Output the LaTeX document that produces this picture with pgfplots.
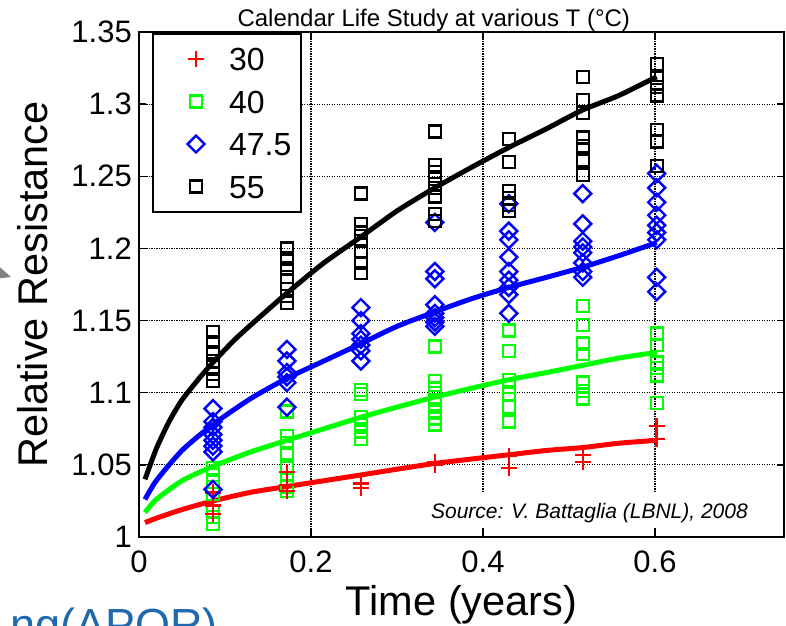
\documentclass[border=0pt]{standalone}
\usepackage{pgfplots}
\pgfplotsset{compat=1.18}
\usepackage{fontspec}
\setmainfont{Liberation Sans}

\definecolor{mred}{RGB}{255,0,0}
\definecolor{mgreen}{RGB}{0,255,0}
\definecolor{mblue}{RGB}{0,0,255}
\definecolor{slideblue}{RGB}{31,105,175}
\definecolor{arrowgray}{RGB}{128,128,128}

\newcommand{\fs}[1]{\fontsize{#1}{#1}\selectfont}

\pgfplotsset{
  redpts/.style={only marks, mark=+, color=mred, mark size=8pt, line width=2.5pt},
  greenpts/.style={only marks, mark=square, color=mgreen, mark size=6pt, line width=2.4pt},
  bluepts/.style={only marks, mark=square, color=mblue, mark size=6pt, line width=2.4pt, mark options={rotate=45}},
  blackpts/.style={only marks, mark=square, color=black, mark size=6pt, line width=2.4pt},
  fitline/.style={no marks, line width=5pt, line join=round, smooth, tension=0.4},
}

\begin{document}
\begin{tikzpicture}
\path[use as bounding box] (-139pt,-88pt) rectangle (647pt,537pt);
\clip (-139pt,-88pt) rectangle (647pt,537pt);
\begin{axis}[
  at={(0pt,0pt)}, anchor=south west,
  scale only axis, width=645pt, height=505pt,
  xmin=0, xmax=0.75, ymin=1, ymax=1.35,
  xtick={0,0.2,0.4,0.6}, xticklabels={0,0.2,0.4,0.6},
  ytick={1,1.05,1.1,1.15,1.2,1.25,1.3,1.35},
  yticklabels={1,1.05,1.1,1.15,1.2,1.25,1.3,1.35},
  /pgf/number format/assume math mode=true,
  tick label style={font=\fs{31}},
  xticklabel style={anchor=base, yshift=-35pt, inner sep=0pt},
  yticklabel style={anchor=east, xshift=-7pt, inner sep=0pt},
  tick align=inside, major tick length=7pt,
  tick style={black, line width=1.5pt},
  axis line style={line width=2pt},
  grid=major,
  major grid style={black, line width=1.2pt, dash pattern=on 1.2pt off 1.3pt},
  title={Calendar Life Study at various T (°C)},
  every axis title/.style={at={(axis description cs:0.457,1)}, anchor=base, yshift=5pt, font=\fs{24}},
  xlabel={Time (years)},
  every axis x label/.style={at={(axis description cs:0.5,0)}, yshift=-78pt, anchor=base, font=\fs{41.5}},
  ylabel={Relative Resistance},
  every axis y label/.style={at={(axis description cs:0,0.5)}, xshift=-91pt, rotate=90, anchor=base, font=\fs{41.5}},
  legend style={at={(axis description cs:0.0202,0.998)}, anchor=north west,
    draw=black, line width=2pt, fill=white, inner xsep=10pt, inner ysep=13.5pt,
    row sep=19.5pt, font=\fs{32},
    nodes={inner sep=0pt, text height=23pt, text depth=0pt},
    /tikz/every even column/.style={}, /tikz/every odd column/.style={}},
  legend cell align=left,
  legend image code/.code={%
    \path[draw=none, fill=none] (-33pt,-11.5pt) rectangle (33pt,11.5pt);
    \draw[#1] plot coordinates {(0pt,0pt)};},
]

% 40 degC measurements
\addplot[greenpts, forget plot] coordinates {
 (0.086,1.048) (0.086,1.043) (0.086,1.038) (0.086,1.030) (0.086,1.018) (0.086,1.014) (0.086,1.009)
 (0.172,1.087) (0.172,1.070) (0.172,1.065) (0.172,1.058) (0.172,1.048) (0.172,1.040) (0.172,1.035) (0.172,1.032)
 (0.258,1.102) (0.258,1.099) (0.258,1.083) (0.258,1.078) (0.258,1.073) (0.258,1.068)
 (0.344,1.132) (0.344,1.108) (0.344,1.103) (0.344,1.097) (0.344,1.092) (0.344,1.087) (0.344,1.082) (0.344,1.078)
 (0.430,1.143) (0.430,1.129) (0.430,1.109) (0.430,1.104) (0.430,1.099) (0.430,1.090) (0.430,1.080)
 (0.516,1.160) (0.516,1.147) (0.516,1.134) (0.516,1.127) (0.516,1.107) (0.516,1.101) (0.516,1.096)
 (0.602,1.141) (0.602,1.133) (0.602,1.121) (0.602,1.117) (0.602,1.112) (0.602,1.093)
};
% 30 degC measurements
\addplot[redpts, forget plot] coordinates {
 (0.086,1.031) (0.086,1.022) (0.086,1.016)
 (0.172,1.045) (0.172,1.036) (0.172,1.032)
 (0.258,1.037) (0.258,1.034)
 (0.344,1.052) (0.344,1.050)
 (0.430,1.056) (0.430,1.048)
 (0.516,1.057) (0.516,1.052)
 (0.602,1.077) (0.602,1.068)
};
% 47.5 degC measurements
\addplot[bluepts, forget plot] coordinates {
 (0.086,1.089) (0.086,1.080) (0.086,1.076) (0.086,1.071) (0.086,1.067) (0.086,1.063) (0.086,1.059) (0.086,1.033)
 (0.172,1.130) (0.172,1.122) (0.172,1.114) (0.172,1.111) (0.172,1.107) (0.172,1.090)
 (0.258,1.159) (0.258,1.150) (0.258,1.141) (0.258,1.137) (0.258,1.133) (0.258,1.129) (0.258,1.122)
 (0.344,1.218) (0.344,1.184) (0.344,1.179) (0.344,1.161) (0.344,1.155) (0.344,1.152) (0.344,1.149) (0.344,1.146)
 (0.430,1.231) (0.430,1.212) (0.430,1.206) (0.430,1.194) (0.430,1.184) (0.430,1.178) (0.430,1.173) (0.430,1.168) (0.430,1.155)
 (0.516,1.238) (0.516,1.217) (0.516,1.205) (0.516,1.201) (0.516,1.197) (0.516,1.190) (0.516,1.184) (0.516,1.180)
 (0.602,1.252) (0.602,1.242) (0.602,1.232) (0.602,1.223) (0.602,1.216) (0.602,1.211) (0.602,1.206) (0.602,1.180) (0.602,1.170)
};
% 55 degC measurements
\addplot[blackpts, forget plot] coordinates {
 (0.086,1.142) (0.086,1.135) (0.086,1.128) (0.086,1.122) (0.086,1.118) (0.086,1.113) (0.086,1.108)
 (0.172,1.200) (0.172,1.193) (0.172,1.186) (0.172,1.180) (0.172,1.172) (0.172,1.167) (0.172,1.162)
 (0.258,1.238) (0.258,1.217) (0.258,1.211) (0.258,1.205) (0.258,1.198) (0.258,1.190) (0.258,1.183)
 (0.344,1.281) (0.344,1.258) (0.344,1.253) (0.344,1.248) (0.344,1.242) (0.344,1.236) (0.344,1.224) (0.344,1.219)
 (0.430,1.276) (0.430,1.260) (0.430,1.240) (0.430,1.235) (0.430,1.230) (0.430,1.226)
 (0.516,1.319) (0.516,1.303) (0.516,1.294) (0.516,1.277) (0.516,1.271) (0.516,1.261) (0.516,1.251)
 (0.602,1.328) (0.602,1.318) (0.602,1.312) (0.602,1.306) (0.602,1.282) (0.602,1.274) (0.602,1.257)
};

% model fits
\addplot[fitline, mred, forget plot] coordinates {
 (0.007,1.010) (0.02,1.013) (0.05,1.019) (0.086,1.025) (0.13,1.031) (0.172,1.035) (0.215,1.039)
 (0.258,1.043) (0.3,1.047) (0.344,1.051) (0.386,1.054) (0.430,1.057) (0.474,1.060) (0.516,1.062)
 (0.558,1.065) (0.602,1.067)
};
\addplot[fitline, mgreen, forget plot] coordinates {
 (0.007,1.017) (0.02,1.026) (0.05,1.039) (0.086,1.049) (0.13,1.059) (0.172,1.067) (0.215,1.075)
 (0.258,1.083) (0.3,1.090) (0.344,1.097) (0.386,1.103) (0.430,1.109) (0.474,1.114) (0.516,1.119)
 (0.558,1.124) (0.602,1.128)
};
\addplot[fitline, mblue, forget plot] coordinates {
 (0.007,1.026) (0.02,1.039) (0.05,1.060) (0.086,1.078) (0.13,1.096) (0.172,1.110) (0.215,1.122)
 (0.258,1.134) (0.3,1.146) (0.344,1.156) (0.386,1.165) (0.430,1.173) (0.474,1.180) (0.516,1.187)
 (0.558,1.195) (0.602,1.204)
};
\addplot[fitline, black, forget plot] coordinates {
 (0.007,1.040) (0.02,1.061) (0.035,1.080) (0.05,1.095) (0.07,1.110) (0.086,1.121) (0.11,1.136)
 (0.13,1.147) (0.172,1.169) (0.215,1.190) (0.258,1.208) (0.3,1.226) (0.344,1.242) (0.386,1.256)
 (0.430,1.270) (0.474,1.283) (0.516,1.296) (0.558,1.306) (0.602,1.319)
};

\addlegendimage{redpts}
\addlegendimage{greenpts}
\addlegendimage{bluepts}
\addlegendimage{blackpts}
\legend{30,40,47.5,55}

\node[fill=white, inner xsep=8pt, inner ysep=6pt, text height=20pt, anchor=base,
      font=\fs{21}\itshape] at (axis description cs:0.6984,0.0376)
      {Source: V. Battaglia (LBNL), 2008};
\end{axis}

% slide elements around the chart
\fill[arrowgray] (-145pt,275pt) -- (-128pt,260pt) -- (-145pt,258pt) -- cycle;
\node[anchor=base east, inner sep=0pt, font=\fs{45}, text=slideblue] at (79pt,-103pt) {ng(APOR)};
\end{tikzpicture}
\end{document}
